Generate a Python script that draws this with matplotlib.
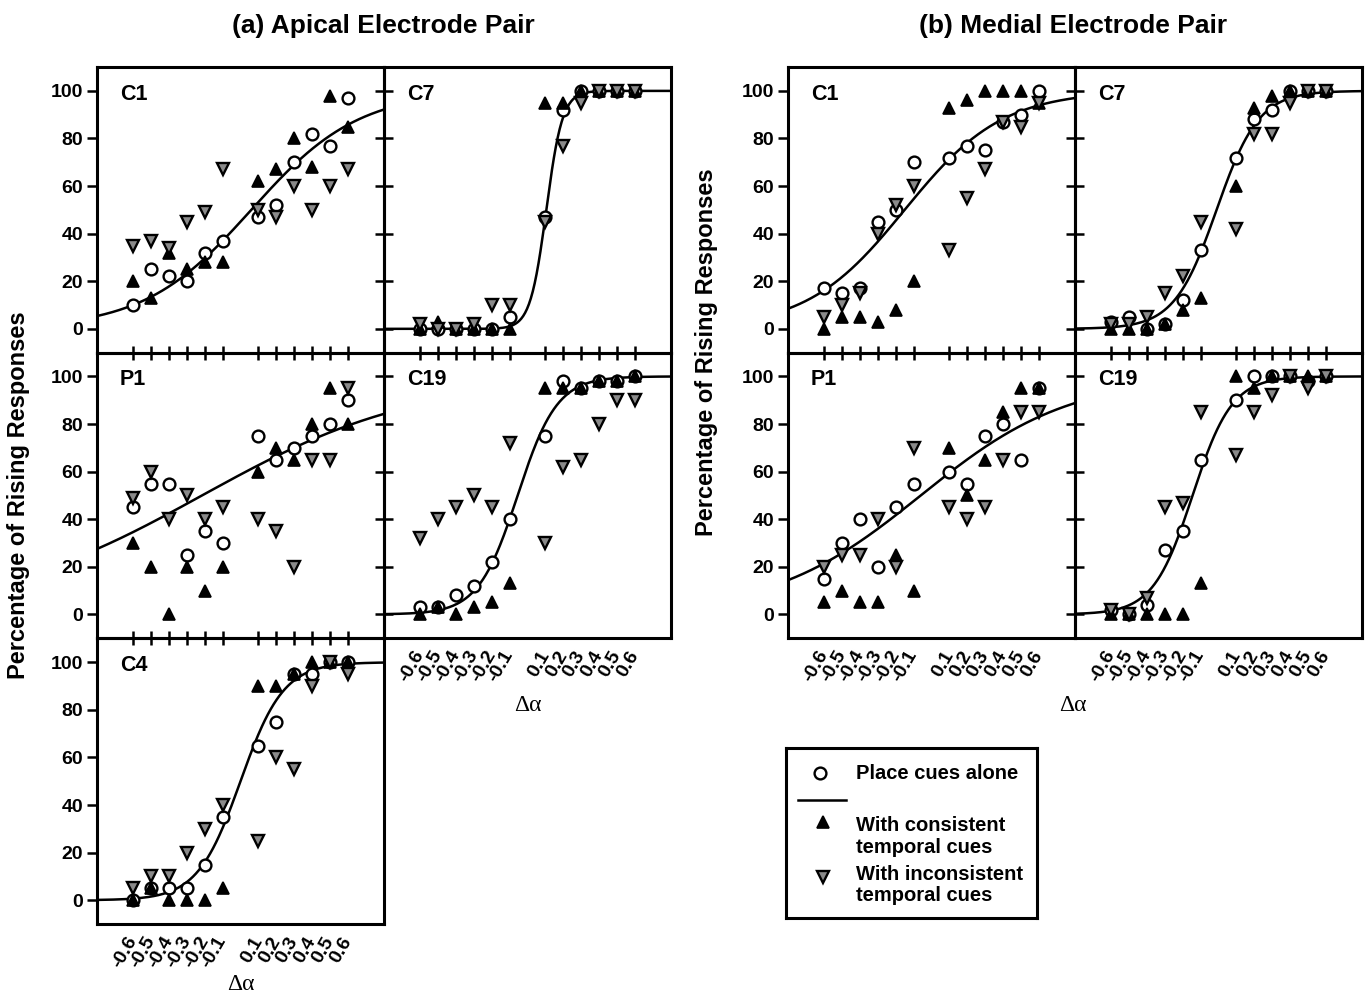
import matplotlib
matplotlib.use('Agg')
import matplotlib.pyplot as plt
import numpy as np

plt.rcParams['font.family'] = ['Liberation Sans', 'DejaVu Sans']
plt.rcParams['font.weight'] = 'bold'

# x axis categories (delta alpha)
delta = [-0.6, -0.5, -0.4, -0.3, -0.2, -0.1, 0.1, 0.2, 0.3, 0.4, 0.5, 0.6]
delta_labels = ['-0.6', '-0.5', '-0.4', '-0.3', '-0.2', '-0.1',
                '0.1', '0.2', '0.3', '0.4', '0.5', '0.6']
y_ticks = [0, 20, 40, 60, 80, 100]

# (a) apical electrode pair -- percentages of rising responses
a_c1_place = [10, 25, 22, 20, 32, 37, 47, 52, 70, 82, 77, 97]
a_c1_cons = [20, 13, 32, 25, 28, 28, 62, 67, 80, 68, 98, 85]
a_c1_incons = [35, 37, 34, 45, 49, 67, 50, 47, 60, 50, 60, 67]
a_c1_fit = [0.06, 0.30]          # midpoint, slope of fitted curve

a_c7_place = [0, 0, 0, 0, 0, 5, 47, 92, 100, 100, 100, 100]
a_c7_cons = [0, 3, 0, 0, 0, 0, 95, 95, 100, 100, 100, 100]
a_c7_incons = [2, 0, 0, 2, 10, 10, 45, 77, 95, 100, 100, 100]
a_c7_fit = [0.105, 0.045]

a_p1_place = [45, 55, 55, 25, 35, 30, 75, 65, 70, 75, 80, 90]
a_p1_cons = [30, 20, 0, 20, 10, 20, 60, 70, 65, 80, 95, 80]
a_p1_incons = [49, 60, 40, 50, 40, 45, 40, 35, 20, 65, 65, 95]
a_p1_fit = [-0.214, 0.604]

a_c19_place = [3, 3, 8, 12, 22, 40, 75, 98, 95, 98, 98, 100]
a_c19_cons = [0, 3, 0, 3, 5, 13, 95, 95, 95, 98, 98, 100]
a_c19_incons = [32, 40, 45, 50, 45, 72, 30, 62, 65, 80, 90, 90]
a_c19_fit = [-0.055, 0.11]

a_c4_place = [0, 5, 5, 5, 15, 35, 65, 75, 95, 95, 100, 100]
a_c4_cons = [0, 5, 0, 0, 0, 5, 90, 90, 95, 100, 100, 100]
a_c4_incons = [5, 10, 10, 20, 30, 40, 25, 60, 55, 90, 100, 95]
a_c4_fit = [0.0, 0.12]

# (b) medial electrode pair
b_c1_place = [17, 15, 17, 45, 50, 70, 72, 77, 75, 87, 90, 100]
b_c1_cons = [0, 5, 5, 3, 8, 20, 93, 96, 100, 100, 100, 95]
b_c1_incons = [5, 10, 15, 40, 52, 60, 33, 55, 67, 87, 85, 95]
b_c1_fit = [-0.15, 0.273]

b_c7_place = [3, 5, 0, 2, 12, 33, 72, 88, 92, 100, 100, 100]
b_c7_cons = [0, 0, 0, 2, 8, 13, 60, 93, 98, 100, 100, 100]
b_c7_incons = [2, 2, 5, 15, 22, 45, 42, 82, 82, 95, 100, 100]
b_c7_fit = [-0.011, 0.118]

b_p1_place = [15, 30, 40, 20, 45, 55, 60, 55, 75, 80, 65, 95]
b_p1_cons = [5, 10, 5, 5, 25, 10, 70, 50, 65, 85, 95, 95]
b_p1_incons = [20, 25, 25, 40, 20, 70, 45, 40, 45, 65, 85, 85]
b_p1_fit = [-0.06, 0.415]

b_c19_place = [2, 0, 4, 27, 35, 65, 90, 100, 100, 100, 98, 100]
b_c19_cons = [0, 0, 0, 0, 0, 13, 100, 95, 100, 100, 100, 100]
b_c19_incons = [2, 0, 7, 45, 47, 85, 67, 85, 92, 100, 95, 100]
b_c19_fit = [-0.145, 0.11]

legend_labels = ['Place cues alone', 'With consistent\ntemporal cues',
                 'With inconsistent\ntemporal cues']

# layout (figure fractions)
W, H = 0.2101, 0.2864
col_a = [0.0710, 0.2811]
col_b = [0.5769, 0.7870]
rows = [0.6463, 0.3599, 0.0732]

# (col_x list, row, col, name, place, cons, incons, fit, bottom?)
panels = [
    (col_a, 0, 0, 'C1', a_c1_place, a_c1_cons, a_c1_incons, a_c1_fit, False),
    (col_a, 0, 1, 'C7', a_c7_place, a_c7_cons, a_c7_incons, a_c7_fit, False),
    (col_a, 1, 0, 'P1', a_p1_place, a_p1_cons, a_p1_incons, a_p1_fit, False),
    (col_a, 1, 1, 'C19', a_c19_place, a_c19_cons, a_c19_incons, a_c19_fit, True),
    (col_a, 2, 0, 'C4', a_c4_place, a_c4_cons, a_c4_incons, a_c4_fit, True),
    (col_b, 0, 0, 'C1', b_c1_place, b_c1_cons, b_c1_incons, b_c1_fit, False),
    (col_b, 0, 1, 'C7', b_c7_place, b_c7_cons, b_c7_incons, b_c7_fit, False),
    (col_b, 1, 0, 'P1', b_p1_place, b_p1_cons, b_p1_incons, b_p1_fit, True),
    (col_b, 1, 1, 'C19', b_c19_place, b_c19_cons, b_c19_incons, b_c19_fit, True),
]

fig = plt.figure(figsize=(13.66, 9.97), dpi=100)

ms = 8.5
gray = '#8a8a8a'
xs = np.linspace(-0.8, 0.8, 300)

for cols, r, c, name, place, cons, incons, fit, bottom in panels:
    ax = fig.add_axes([cols[c], rows[r], W, H])
    ax.patch.set_visible(False)

    # fitted curve for place cues alone
    ax.plot(xs, 100.0 / (1.0 + np.exp(-(xs - fit[0]) / fit[1])),
            color='black', lw=1.8, zorder=2)
    ax.plot(delta, place, 'o', ms=ms, mfc='white', mec='black', mew=1.7, zorder=3)
    ax.plot(delta, cons, '^', ms=ms + 0.5, mfc='black', mec='black', mew=1.2, zorder=4)
    ax.plot(delta, incons, 'v', ms=ms + 0.5, mfc=gray, mec='black', mew=1.7, zorder=5)

    ax.set_xlim(-0.8, 0.8)
    ax.set_ylim(-10, 110)
    ax.set_xticks(delta)
    ax.set_yticks(y_ticks)
    for s in ax.spines.values():
        s.set_linewidth(2.2)

    ax.text(0.08, 0.905, name, transform=ax.transAxes, fontsize=15.5,
            fontweight='bold', ha='left', va='center')

    if c == 0:
        ax.tick_params(axis='y', direction='out', length=7, width=1.8,
                       labelsize=14, pad=3)
    else:
        ax.tick_params(axis='y', direction='inout', length=13, width=1.8,
                       labelleft=False)

    if bottom:
        ax.tick_params(axis='x', length=0, pad=10)
        ax.set_xticklabels(delta_labels, rotation=60, ha='right', va='center',
                           rotation_mode='anchor', fontsize=14,
                           fontweight='bold')
    else:
        ax.tick_params(axis='x', direction='inout', length=9.5, width=1.8,
                       labelbottom=False)

    if bottom and cols is col_a:
        ax.set_xlabel('\u0394\u03b1', family='Liberation Serif',
                      fontweight='normal', fontsize=17,
                      labelpad=2 if r == 2 else 7)

# Δα for (b) shared between the two columns
fig.text(1073 / 1366, 1 - 705 / 997, '\u0394\u03b1', family='Liberation Serif',
         fontweight='normal', fontsize=17, ha='center', va='center')

# titles
fig.text(383 / 1366, 1 - 26 / 997, '(a) Apical Electrode Pair',
         fontsize=19, fontweight='bold', ha='center', va='center')
fig.text(1073 / 1366, 1 - 26 / 997, '(b) Medial Electrode Pair',
         fontsize=19, fontweight='bold', ha='center', va='center')

# y labels
fig.text(19 / 1366, 1 - 495 / 997, 'Percentage of Rising Responses', rotation=90,
         fontsize=17, fontweight='bold', ha='center', va='center')
fig.text(706 / 1366, 1 - 352 / 997, 'Percentage of Rising Responses', rotation=90,
         fontsize=17, fontweight='bold', ha='center', va='center')

# legend box
lax = fig.add_axes([0.5754, 0.0792, 0.1837, 0.1705])
lax.set_xlim(0, 1)
lax.set_ylim(0, 1)
lax.set_xticks([])
lax.set_yticks([])
for s in lax.spines.values():
    s.set_linewidth(2.2)
lax.plot([0.135], [0.853], 'o', ms=ms, mfc='white', mec='black', mew=1.7)
lax.plot([0.047, 0.239], [0.694, 0.694], color='black', lw=1.8)
lax.plot([0.147], [0.565], '^', ms=ms + 0.5, mfc='black', mec='black', mew=1.2)
lax.plot([0.147], [0.241], 'v', ms=ms + 0.5, mfc=gray, mec='black', mew=1.7)
lax.text(0.279, 0.853, legend_labels[0], fontsize=14.5, fontweight='bold',
         ha='left', va='center')
lax.text(0.279, 0.479, legend_labels[1], fontsize=14.5, fontweight='bold',
         ha='left', va='center', linespacing=1.15)
lax.text(0.279, 0.194, legend_labels[2], fontsize=14.5, fontweight='bold',
         ha='left', va='center', linespacing=1.15)

fig.savefig('out.png', dpi=100)
